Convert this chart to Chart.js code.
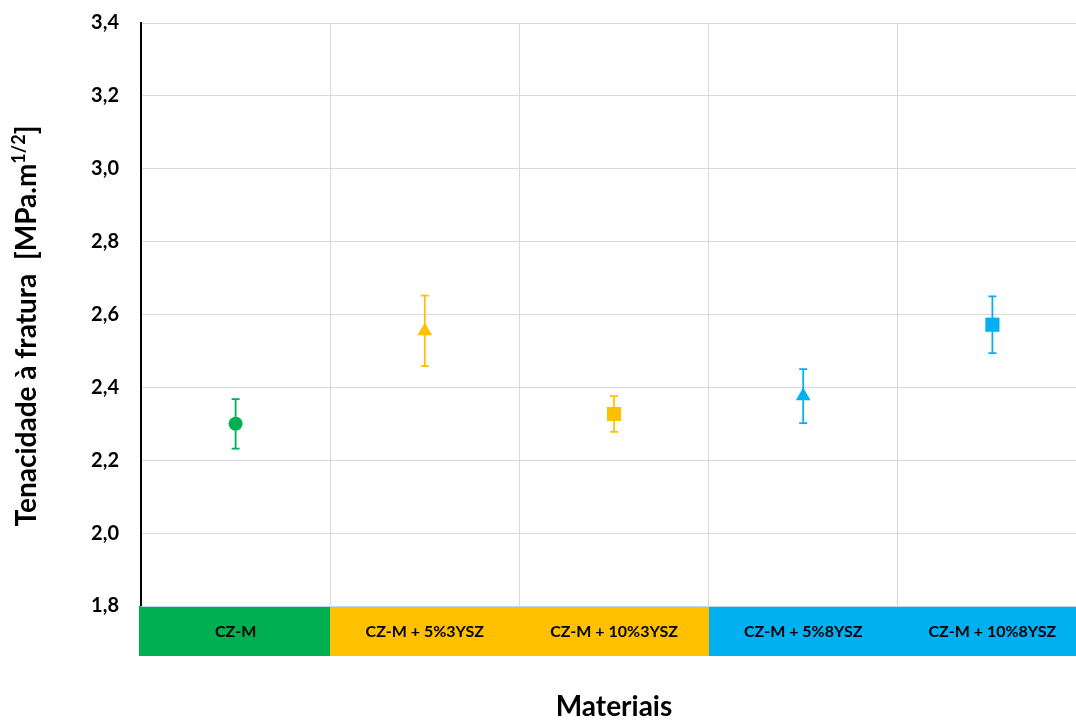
<!DOCTYPE html>
<html>
<head>
<meta charset="utf-8">
<script src="https://cdn.jsdelivr.net/npm/chart.js@4"></script>
<style>
  html, body { margin: 0; padding: 0; background: #fff; overflow: hidden; }
  canvas { display: block; }
</style>
</head>
<body>
<canvas id="c" width="1097" height="720"></canvas>
<script>
// Materials and measured fracture toughness (mean ± standard deviation)
const categories = ['CZ-M', 'CZ-M + 5%3YSZ', 'CZ-M + 10%3YSZ', 'CZ-M + 5%8YSZ', 'CZ-M + 10%8YSZ'];
const toughness = [2.30, 2.555, 2.327, 2.376, 2.572];
const deviation = [0.068, 0.097, 0.049, 0.074, 0.078];
const yTicks = [1.8, 2.0, 2.2, 2.4, 2.6, 2.8, 3.0, 3.2, 3.4];

// Styling per material
const colors = ['#00B050', '#FFC000', '#FFC000', '#00B0F0', '#00B0F0'];
const markers = ['circle', 'triangle', 'rect', 'triangle', 'rect'];
const markerRadius = [7, 8.5, 10, 8.5, 10];

const FONT = 'Lato, "Open Sans", sans-serif';

// Error bars, drawn under the markers
const errorBars = {
  id: 'errorBars',
  beforeDatasetsDraw(chart) {
    const { ctx, scales: { x, y } } = chart;
    ctx.save();
    ctx.lineWidth = 1.75;
    toughness.forEach((v, i) => {
      const px = x.getPixelForValue(i);
      const top = y.getPixelForValue(v + deviation[i]);
      const bot = y.getPixelForValue(v - deviation[i]);
      ctx.strokeStyle = colors[i];
      ctx.beginPath();
      ctx.moveTo(px, top); ctx.lineTo(px, bot);
      ctx.moveTo(px - 4, top); ctx.lineTo(px + 4, top);
      ctx.moveTo(px - 4, bot); ctx.lineTo(px + 4, bot);
      ctx.stroke();
    });
    ctx.restore();
  }
};

// Coloured category band under the plot, plus both axis titles
const bandAndTitles = {
  id: 'bandAndTitles',
  afterDraw(chart) {
    const { ctx, chartArea, scales: { x } } = chart;
    const half = (x.getPixelForValue(1) - x.getPixelForValue(0)) / 2;
    const bandTop = Math.round(chartArea.bottom), bandH = 50;
    ctx.save();
    categories.forEach((c, i) => {
      const cx = x.getPixelForValue(i);
      const l = i === 0 ? Math.round(chartArea.left) - 2 : Math.round(cx - half);
      const r = Math.round(cx + half);
      ctx.fillStyle = colors[i];
      ctx.fillRect(l, bandTop, r - l + 1, bandH);
    });
    categories.forEach((c, i) => {
      ctx.fillStyle = '#000';
      ctx.font = 'bold 16px ' + FONT;
      ctx.textAlign = 'center';
      ctx.textBaseline = 'middle';
      ctx.fillText(c, x.getPixelForValue(i), bandTop + bandH / 2 + 1);
    });
    ctx.strokeStyle = '#BDD7EE';
    ctx.lineWidth = 1;
    ctx.beginPath();
    ctx.moveTo(chartArea.left, bandTop + 0.5);
    ctx.lineTo(chartArea.right, bandTop + 0.5);
    ctx.stroke();

    // x-axis title
    ctx.fillStyle = '#000';
    ctx.font = 'bold 28px ' + FONT;
    ctx.textAlign = 'center';
    ctx.textBaseline = 'alphabetic';
    ctx.fillText('Materiais', (chartArea.left + chartArea.right) / 2, 716);

    // y-axis title with superscript exponent
    const main = 'Tenacidade à fratura  [MPa.m';
    const sup = '1/2';
    const tail = ']';
    const fMain = 'bold 28px ' + FONT;
    const fSup = 'bold 18px ' + FONT;
    ctx.font = fMain;
    const wMain = ctx.measureText(main).width;
    const wTail = ctx.measureText(tail).width;
    ctx.font = fSup;
    const wSup = ctx.measureText(sup).width;
    const total = wMain + wSup + wTail;
    ctx.translate(36, 326);
    ctx.rotate(-Math.PI / 2);
    ctx.textAlign = 'left';
    let px = -total / 2;
    ctx.font = fMain;
    ctx.fillText(main, px, 0);
    px += wMain;
    ctx.font = fSup;
    ctx.fillText(sup, px, -11);
    px += wSup;
    ctx.font = fMain;
    ctx.fillText(tail, px, 0);
    ctx.restore();
  }
};

new Chart(document.getElementById('c'), {
  type: 'line',
  data: {
    labels: categories,
    datasets: [{
      data: toughness,
      showLine: false,
      pointStyle: markers,
      pointRadius: markerRadius,
      pointHoverRadius: markerRadius,
      pointBackgroundColor: colors,
      pointBorderColor: colors,
      pointBorderWidth: 0
    }]
  },
  options: {
    responsive: false,
    animation: false,
    events: [],
    layout: { padding: { top: 23, right: 0, bottom: 0, left: 0 } },
    plugins: { legend: { display: false }, tooltip: { enabled: false } },
    scales: {
      x: {
        type: 'category',
        offset: true,
        grid: { offset: true, color: '#D9D9D9', lineWidth: 1, drawTicks: false },
        border: { display: false },
        ticks: { display: false },
        afterFit(s) { s.height = 114; s.paddingLeft = 0; s.paddingRight = 0; }
      },
      y: {
        min: 1.8,
        max: 3.4,
        afterBuildTicks(s) { s.ticks = yTicks.map(v => ({ value: v })); },
        grid: { color: '#D9D9D9', lineWidth: 1, drawTicks: false },
        border: { display: true, color: '#000', width: 2 },
        ticks: {
          padding: 22,
          color: '#000',
          font: { family: FONT, size: 20, weight: 'bold' },
          callback: v => Number(v).toFixed(1).replace('.', ',')
        },
        afterFit(s) { s.width = 141; s.paddingTop = 0; s.paddingBottom = 0; }
      }
    }
  },
  plugins: [errorBars, bandAndTitles]
});
</script>
</body>
</html>
